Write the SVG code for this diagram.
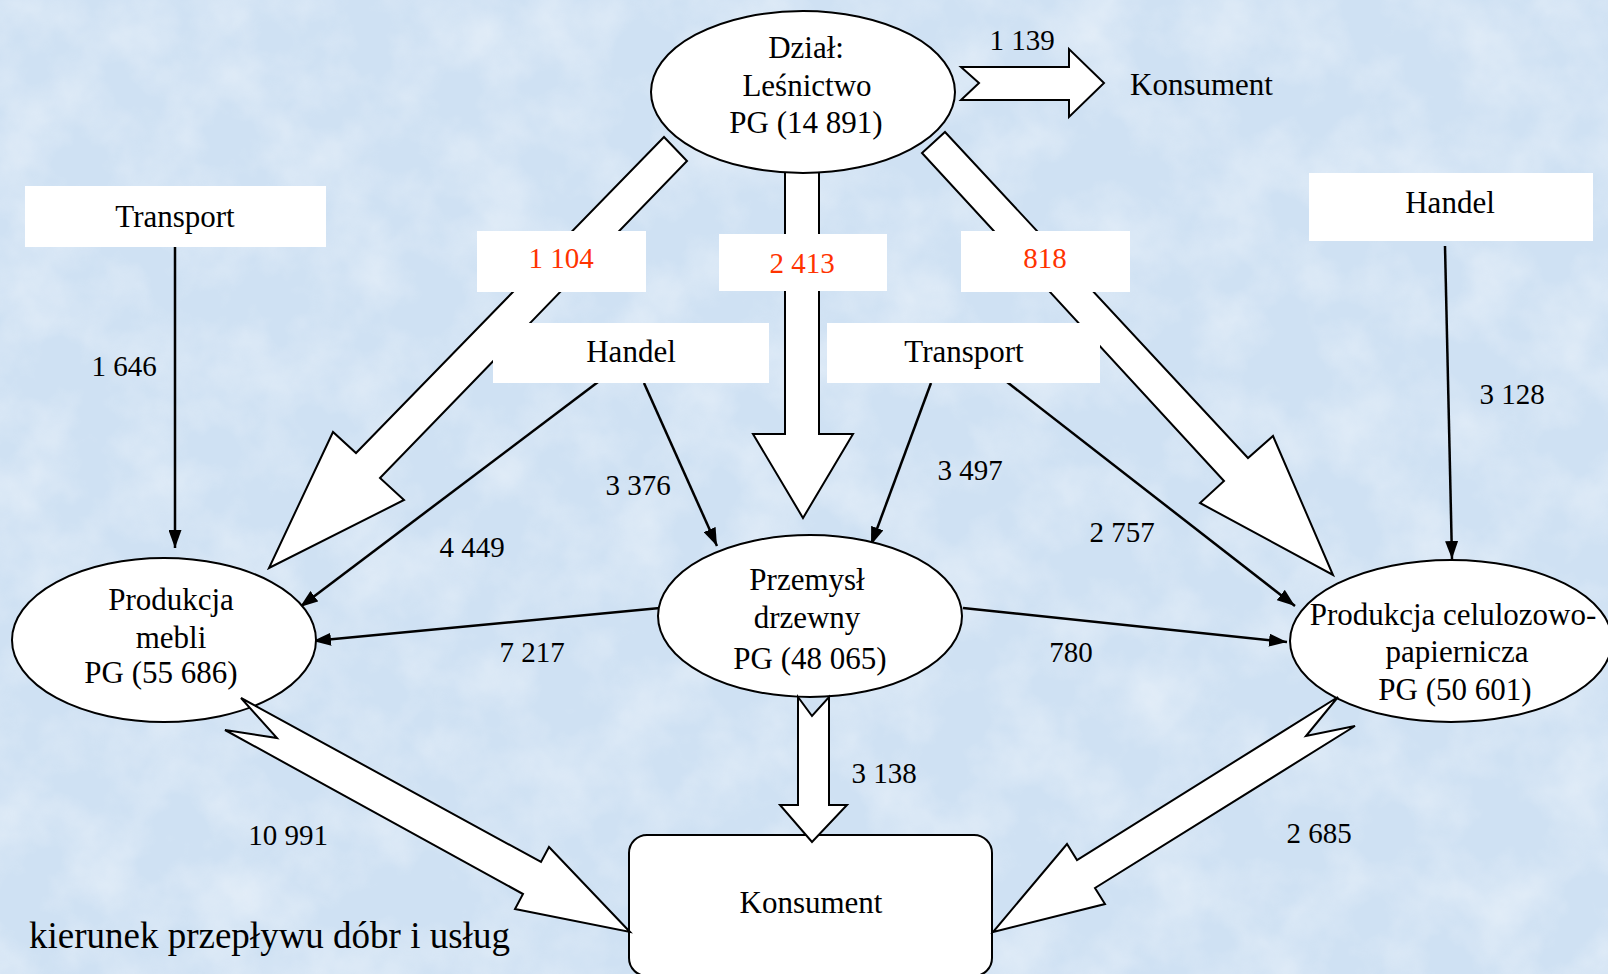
<svg xmlns="http://www.w3.org/2000/svg" width="1608" height="974" viewBox="0 0 1608 974">
<style>
.t{font-family:"Liberation Serif","Times New Roman",serif;font-size:31px;fill:#000;text-anchor:middle}
.n{font-family:"Liberation Serif","Times New Roman",serif;font-size:29px;fill:#000;text-anchor:middle}
.r{fill:#ff3300}
.node{fill:#fff;stroke:#000;stroke-width:2}
.box{fill:#fff;stroke:none}
.blk{fill:#fff;stroke:#000;stroke-width:2;stroke-linejoin:miter}
.ln{fill:none;stroke:#000;stroke-width:2.5}
</style>
<defs>
<marker id="ah" markerUnits="userSpaceOnUse" viewBox="0 0 18 13" markerWidth="18" markerHeight="13" refX="18" refY="6.5" orient="auto">
<path d="M0,0 L18,6.5 L0,13 z" fill="#000"/>
</marker>
<filter id="tex" x="0" y="0" width="100%" height="100%">
<feTurbulence type="fractalNoise" baseFrequency="0.015" numOctaves="4" seed="7"/>
<feColorMatrix type="matrix" values="0 0 0 0 1  0 0 0 0 1  0 0 0 0 1  1.2 0 0 0 -0.45"/>
</filter>
</defs>
<rect width="1608" height="974" fill="#cfe1f3"/>
<rect width="1608" height="974" filter="url(#tex)" opacity="0.6"/>

<g id="connectors">
<polygon class="blk" points="961,67 1069,67 1069,49 1104,83 1069,117 1069,100 961,100 979,83"/>
<polygon class="blk" points="664,137 356,453 333,432 269,568 404,500 380,478 687,161"/>
<polygon class="blk" points="785,165 785,434 753,434 803,518 853,434 819,434 819,165"/>
<polygon class="blk" points="945,132 1248,458 1273,436 1333,575 1200,503 1224,481 922,153"/>
<line class="ln" x1="175" y1="247" x2="175" y2="548" marker-end="url(#ah)"/>
<line class="ln" x1="1445" y1="246" x2="1452" y2="559" marker-end="url(#ah)"/>
<line class="ln" x1="598" y1="382" x2="300" y2="607" marker-end="url(#ah)"/>
<line class="ln" x1="644" y1="383" x2="717" y2="546" marker-end="url(#ah)"/>
<line class="ln" x1="931" y1="383" x2="871" y2="545" marker-end="url(#ah)"/>
<line class="ln" x1="1007" y1="382" x2="1295" y2="606" marker-end="url(#ah)"/>
<line class="ln" x1="660" y1="608" x2="313" y2="641" marker-end="url(#ah)"/>
<line class="ln" x1="963" y1="608" x2="1287" y2="642" marker-end="url(#ah)"/>
</g>

<g id="lbl-1104"><rect class="box" x="477" y="231" width="169" height="61"/><text class="n r" x="561" y="268">1 104</text></g>
<g id="lbl-2413"><rect class="box" x="719" y="234" width="168" height="57"/><text class="n r" x="802" y="273">2 413</text></g>
<g id="lbl-818"><rect class="box" x="961" y="231" width="169" height="61"/><text class="n r" x="1045" y="268">818</text></g>

<g id="transport-left"><rect class="box" x="25" y="186" width="301" height="61"/><text class="t" x="175" y="227">Transport</text></g>
<g id="handel-mid"><rect class="box" x="493" y="323" width="276" height="60"/><text class="t" x="631" y="362">Handel</text></g>
<g id="transport-mid"><rect class="box" x="827" y="323" width="273" height="60"/><text class="t" x="964" y="362">Transport</text></g>
<g id="handel-right"><rect class="box" x="1309" y="173" width="284" height="68"/><text class="t" x="1450" y="213">Handel</text></g>

<g id="lesnictwo"><ellipse class="node" cx="803" cy="92" rx="152" ry="81"/>
<text class="t" x="806" y="58">Dział:</text><text class="t" x="807" y="96">Leśnictwo</text><text class="t" x="806" y="133">PG (14 891)</text></g>
<g id="konsument-top"><text class="t" x="1130" y="95" style="text-anchor:start">Konsument</text></g>
<g id="meble"><ellipse class="node" cx="164" cy="640" rx="152" ry="82"/>
<text class="t" x="171" y="610">Produkcja</text><text class="t" x="171" y="648">mebli</text><text class="t" x="161" y="683">PG (55 686)</text></g>
<g id="drzewny"><ellipse class="node" cx="810" cy="616" rx="152" ry="81"/>
<text class="t" x="807" y="590">Przemysł</text><text class="t" x="807" y="628">drzewny</text><text class="t" x="810" y="669">PG (48 065)</text></g>
<g id="celuloza"><ellipse class="node" cx="1451" cy="641" rx="161" ry="81"/>
<text class="t" x="1453" y="625">Produkcja celulozowo-</text><text class="t" x="1457" y="662">papiernicza</text><text class="t" x="1455" y="700">PG (50 601)</text></g>
<g id="konsument"><rect class="node" x="629" y="835" width="363" height="141" rx="18" ry="18"/><text class="t" x="811" y="913">Konsument</text></g>

<g id="connectors-bottom">
<polygon class="blk" points="241,698 541,862 549,847 630,932 515,909 523,894 225,730 277,738"/>
<polygon class="blk" points="798,697 812,716 829,697 829,805 847,805 812,842 780,805 798,805"/>
<polygon class="blk" points="1338,697 1077,860 1067,844 993,932 1105,904 1095,888 1355,726 1306,736"/>
</g>

<g id="values">
<text class="n" x="1022" y="50">1 139</text>
<text class="n" x="124" y="376">1 646</text>
<text class="n" x="1512" y="404">3 128</text>
<text class="n" x="638" y="495">3 376</text>
<text class="n" x="970" y="480">3 497</text>
<text class="n" x="472" y="557">4 449</text>
<text class="n" x="1122" y="542">2 757</text>
<text class="n" x="532" y="662">7 217</text>
<text class="n" x="1071" y="662">780</text>
<text class="n" x="884" y="783">3 138</text>
<text class="n" x="288" y="845">10 991</text>
<text class="n" x="1319" y="843">2 685</text>
</g>
<text id="legend" x="29" y="948" style="font-family:'Liberation Serif','Times New Roman',serif;font-size:37px">kierunek przepływu dóbr i usług</text>
</svg>
